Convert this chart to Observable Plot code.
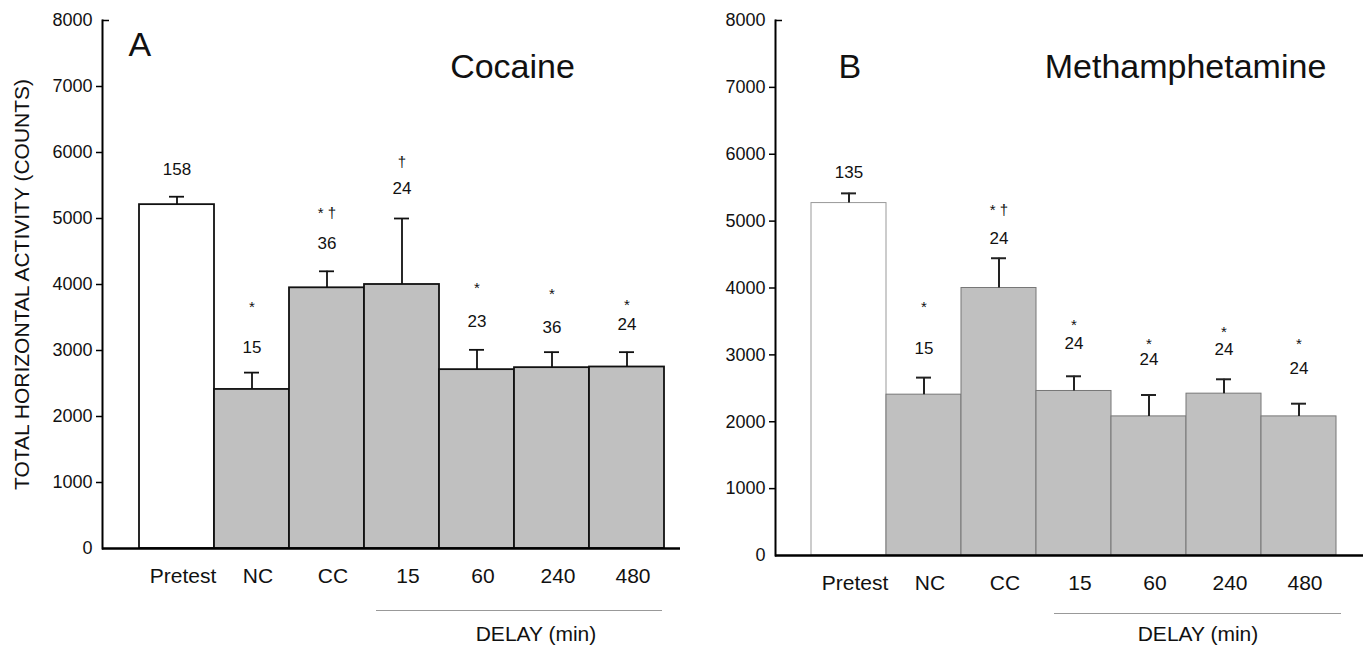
<!DOCTYPE html>
<html>
<head>
<meta charset="utf-8">
<script src="https://cdn.jsdelivr.net/npm/d3@7"></script>
<script src="https://cdn.jsdelivr.net/npm/@observablehq/plot@0.6"></script>
<style>
  body { margin: 0; background: #fff; }
  #wrap { display: flex; flex-direction: row; width: 1363px; height: 647px; }
  #wrap svg { display: block; font-family: "Liberation Sans", Arial, sans-serif; }
</style>
</head>
<body>
<div id="wrap"></div>
<script>
// ---- Data ----
const categories = ["Pretest", "NC", "CC", "15", "60", "240", "480"];
const delayGroup = ["15", "480"];
const yTicks = [0, 1000, 2000, 3000, 4000, 5000, 6000, 7000, 8000];
const yTitle = "TOTAL HORIZONTAL ACTIVITY (COUNTS)";
const delayLabel = "DELAY (min)";

// Panel A: Cocaine
const cocaineMean  = [5210, 2410, 3950, 4000, 2710, 2740, 2750];
const cocaineUpper = [5330, 2665, 4200, 5000, 3010, 2975, 2975];
const cocaineN     = ["158", "15", "36", "24", "23", "36", "24"];
const cocaineNY    = [5740, 3050, 4620, 5450, 3440, 3350, 3390];
const cocaineSig   = ["", "*", "* \u2020", "\u2020", "*", "*", "*"];
const cocaineSigY  = [0, 3710, 5140, 5920, 4000, 3910, 3740];

// Panel B: Methamphetamine
const methMean  = [5270, 2405, 4000, 2460, 2080, 2420, 2080];
const methUpper = [5415, 2660, 4445, 2680, 2400, 2635, 2270];
const methN     = ["135", "15", "24", "24", "24", "24", "24"];
const methNY    = [5720, 3090, 4745, 3175, 2925, 3075, 2790];
const methSig   = ["", "*", "* \u2020", "*", "*", "*", "*"];
const methSigY  = [0, 3770, 5230, 3510, 3215, 3400, 3215];

function panel(o) {
  const rows = categories.map((c, i) => ({
    cat: c, mean: o.mean[i], upper: o.upper[i],
    n: o.n[i], nY: o.nY[i], sig: o.sig[i], sigY: o.sigY[i]
  }));
  const marks = [
    Plot.barY(rows, {
      x: "cat", y: "mean",
      fill: d => d.cat === "Pretest" ? "white" : "#c0c0c0",
      stroke: d => d.cat === "Pretest" ? o.pretestStroke : o.barStroke,
      strokeWidth: o.barStrokeWidth
    }),
    Plot.ruleX(rows, {x: "cat", y1: "mean", y2: "upper", stroke: o.errStroke, strokeWidth: o.errWidth}),
    Plot.tickY(rows, {x: "cat", y: "upper", insetLeft: 30, insetRight: 30, stroke: o.errStroke, strokeWidth: o.errWidth}),
    Plot.text(rows, {x: "cat", y: "nY", text: "n", fontSize: 17, fill: "#111"}),
    Plot.text(rows.filter(d => d.sig), {x: "cat", y: "sigY", text: "sig", fontSize: 15, dy: 4, fill: "#111"}),
    Plot.ruleY([0], {stroke: "#000", strokeWidth: 2.5}),
    Plot.frame({anchor: "left", stroke: "#000", strokeWidth: 2}),
    Plot.axisY({ticks: yTicks, tickSize: 0, tickPadding: 10, fontSize: 18, tickFormat: d => String(d), label: null, fill: "#111"}),
    Plot.axisY({ticks: yTicks.filter(t => t > 0 && t < 8000), tickSize: 6, tickFormat: () => "", label: null, strokeWidth: 1.5}),
    Plot.axisY({ticks: [8000], tickSize: -7, tickFormat: () => "", label: null, strokeWidth: 1.5}),
    Plot.axisX({tickSize: 0, tickPadding: 20, fontSize: 21, label: null, dx: 6, fill: "#111"}),
    Plot.ruleY([0], {x1: () => delayGroup[0], x2: () => delayGroup[1], insetLeft: o.delayInsetLeft, insetRight: o.delayInsetRight, dy: o.delayDy, stroke: "#999", strokeWidth: 1}),
    Plot.text([delayLabel], {x: () => "240", y: () => 0, dx: o.delayDx, dy: o.delayTextDy, fontSize: 21, fill: "#111"}),
    Plot.text([o.letter], {frameAnchor: "top-left", dx: o.letterDx, dy: o.letterDy, textAnchor: "start", lineAnchor: "middle", fontSize: 34, fill: "#111"}),
    Plot.text([o.name], {frameAnchor: "top-left", dx: o.nameDx, dy: 47, textAnchor: "middle", lineAnchor: "middle", fontSize: 34, fill: "#111"})
  ];
  if (o.showTitle) {
    marks.push(Plot.text([yTitle], {frameAnchor: "left", rotate: -90, dx: -80, textAnchor: "middle", lineAnchor: "middle", fontSize: 21, fill: "#111"}));
  }
  return Plot.plot({
    width: o.width,
    height: 647,
    marginLeft: o.marginLeft,
    marginRight: 0,
    marginTop: 20,
    marginBottom: o.marginBottom,
    x: {domain: categories, range: o.range, padding: 0},
    y: {domain: [0, 8000]},
    style: {fontFamily: "'Liberation Sans', Arial, sans-serif", background: "white", overflow: "visible"},
    marks
  });
}

const wrap = document.getElementById("wrap");
wrap.appendChild(panel({
  mean: cocaineMean, upper: cocaineUpper, n: cocaineN, nY: cocaineNY, sig: cocaineSig, sigY: cocaineSigY,
  name: "Cocaine", letter: "A", width: 680, marginLeft: 102, marginBottom: 99, range: [138, 664],
  barStroke: "#111", pretestStroke: "#111", barStrokeWidth: 1.8, errStroke: "#111", errWidth: 1.8,
  delayInsetLeft: 12, delayInsetRight: 2, delayDy: 62, delayDx: -16, delayTextDy: 86,
  letterDx: 26, letterDy: 25, nameDx: 410, showTitle: true
}));
wrap.appendChild(panel({
  mean: methMean, upper: methUpper, n: methN, nY: methNY, sig: methSig, sigY: methSigY,
  name: "Methamphetamine", letter: "B", width: 683, marginLeft: 95, marginBottom: 92, range: [131, 656],
  barStroke: "#777", pretestStroke: "#999", barStrokeWidth: 1, errStroke: "#222", errWidth: 2,
  delayInsetLeft: 18, delayInsetRight: -5, delayDy: 58, delayDx: -26, delayTextDy: 79,
  letterDx: 63, letterDy: 47, nameDx: 410, showTitle: false
}));
</script>
</body>
</html>
